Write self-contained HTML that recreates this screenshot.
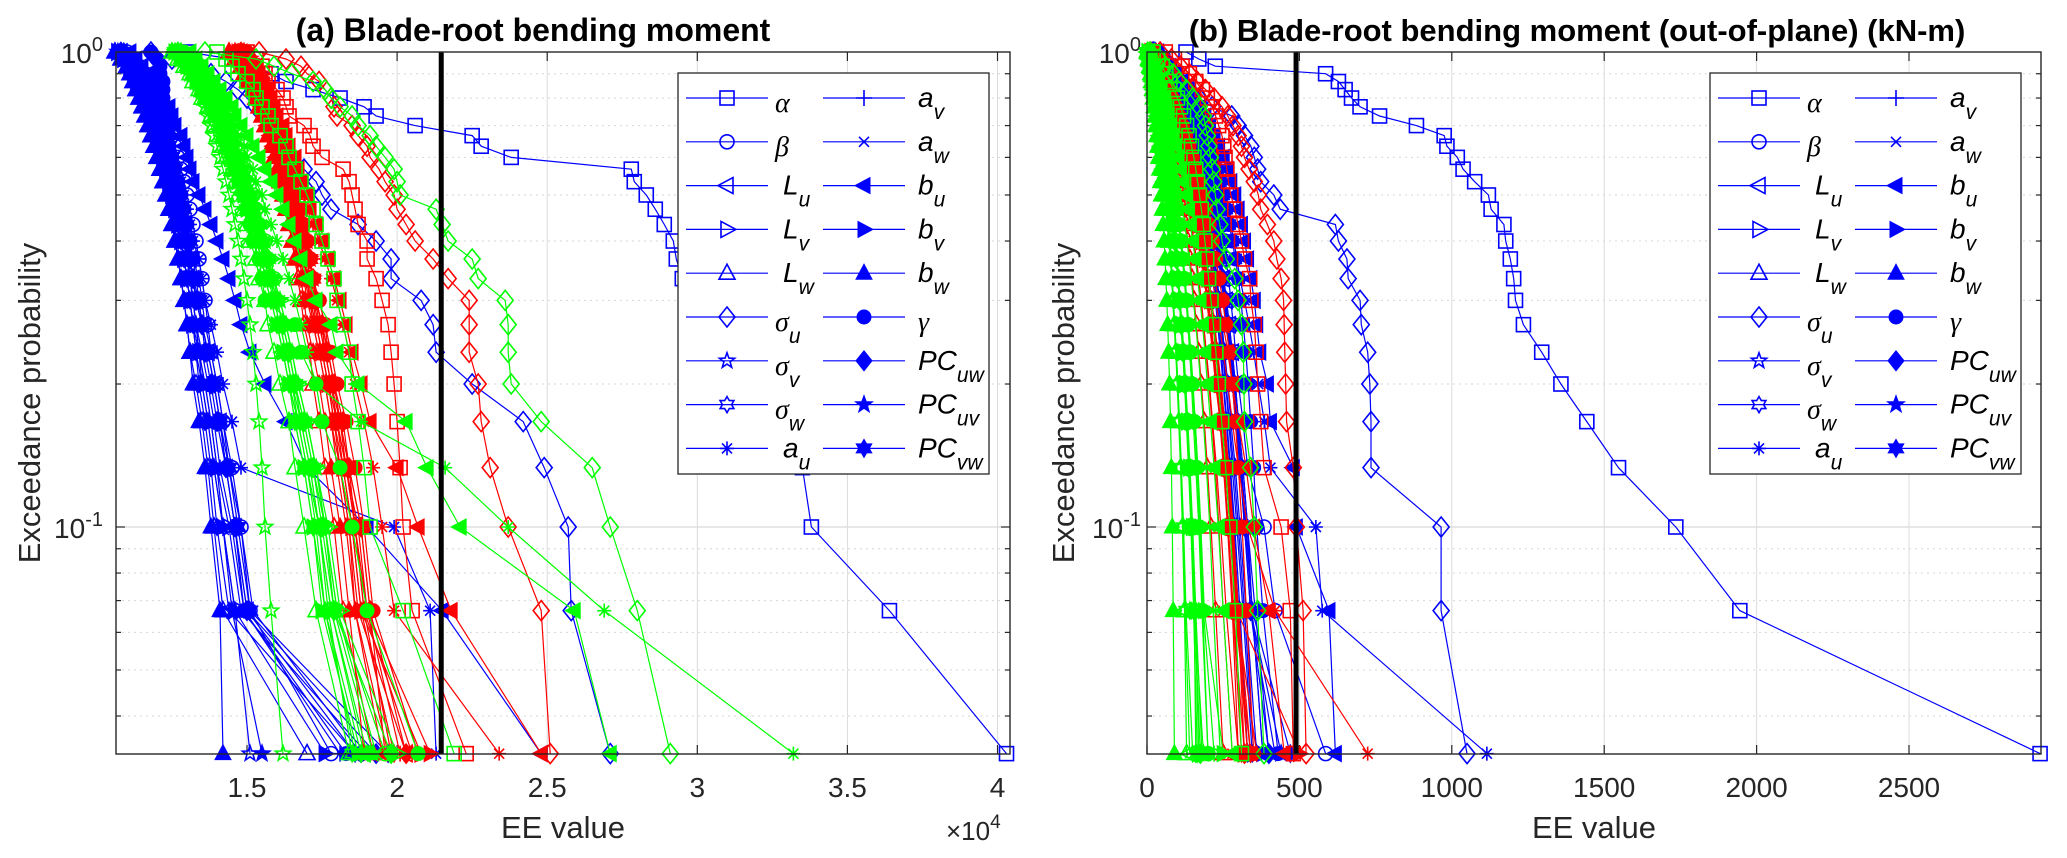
<!DOCTYPE html>
<html><head><meta charset="utf-8"><title>Exceedance probability charts</title>
<style>
html,body{margin:0;padding:0;background:#fff;}
svg{display:block;font-family:"Liberation Sans",sans-serif;}
</style></head>
<body>
<svg id="chart" width="2067" height="858" viewBox="0 0 2067 858" xmlns="http://www.w3.org/2000/svg"></svg>
<script>
// ---- shared categories ----
const shapeNames = ["alpha","beta","Lu","Lv","Lw","su","sv","sw","au","av","aw","bu","bv","bw","gamma","PCuw","PCuv","PCvw"];
const nLevels = 30; // probability levels k/30
const leftTicks = [1.5,2,2.5,3,3.5,4];
const leftTickLabels = ["1.5","2","2.5","3","3.5","4"];
const rightTicks = [0,500,1000,1500,2000,2500];
const rightTickLabels = ["0","500","1000","1500","2000","2500"];
const leftThreshold = 2.147; // x1e4
const rightThreshold = 489;

// ---- left panel values (units of 1e2, i.e. 152 = 1.52e4), k=30..1 ----
const leftBlue = [
[130,145,152,158,163,172,181,189,193,206,225,228,238,278,279,283,286,289,292,293,295,298,302,308,315,325,335,338,364,403],
[110,112,114,116,118,119,120,121,122,124,125,126,127,128,129,130,131,132,133,134,135,136,137,138,140,142,145,148,151,178],
[108,110,112,114,115,116,117,118,119,120,121,122,123,124,125,127,128,129,130,131,132,133,135,137,139,141,143,146,150,186],
[107,109,111,113,114,115,116,117,118,119,120,121,122,123,124,125,126,127,128,129,130,131,132,134,136,138,140,144,148,190],
[106,108,110,111,112,113,114,115,116,117,118,119,120,121,122,123,124,125,126,127,128,129,130,131,133,135,137,139,142,170],
[118,125,132,138,143,147,150,153,156,158,160,162,164,169,173,175,178,187,193,198,198,208,212,213,225,242,249,257,258,271],
[109,111,112,114,115,116,117,118,119,120,121,122,123,124,125,126,127,128,129,130,131,132,133,134,135,137,139,142,146,151],
[108,110,111,113,114,115,116,117,118,119,120,121,122,123,124,125,126,127,128,129,130,131,132,133,134,136,138,140,144,186],
[110,112,114,116,117,119,120,121,122,123,124,125,126,127,128,129,130,131,132,134,135,136,138,140,142,145,148,199,211,213],
[107,109,111,113,114,115,116,117,118,119,120,121,122,123,124,125,126,128,129,130,131,132,133,135,137,139,141,145,149,181],
[109,111,113,115,116,117,119,120,121,122,123,124,125,126,127,128,129,130,131,132,134,135,136,138,140,142,144,148,152,188],
[111,113,115,117,119,121,122,124,125,126,128,129,130,131,132,134,136,138,140,142,144,146,148,151,156,163,170,190,215,248],
[108,110,112,114,115,116,117,118,119,120,121,122,123,124,125,126,127,128,129,130,131,132,133,134,136,138,140,142,146,176],
[106,108,110,111,112,113,114,115,116,117,118,119,120,121,122,123,124,125,126,127,128,129,130,131,132,134,136,138,141,142],
[118,120,121,121,122,122,122,123,123,123,124,124,125,126,127,128,129,130,131,132,133,134,135,137,139,141,143,146,149,183],
[108,110,112,114,116,117,118,119,120,121,122,123,124,125,126,127,128,129,130,131,132,133,135,136,138,140,143,146,150,193],
[107,109,110,112,113,115,116,117,118,119,120,121,122,123,124,125,126,127,128,129,130,131,132,133,135,137,139,142,145,155],
[109,111,113,114,116,117,118,119,120,121,122,123,124,125,126,127,128,129,130,131,132,134,135,137,139,141,144,147,151,197]];
const leftRed = [
[150,153,155,156,157,160,162,163,164,169,171,172,175,182,184,185,186,187,190,190,193,195,197,198,199,200,201,202,205,223],
[147,149,151,153,154,156,157,158,159,160,161,162,163,164,165,166,167,168,170,171,172,174,176,177,179,181,184,188,191,196],
[145,147,149,150,152,153,154,155,156,157,158,159,160,161,162,163,164,165,166,167,169,170,172,174,176,178,181,184,187,203],
[148,150,151,153,154,155,156,157,158,159,160,161,162,163,164,165,166,167,168,169,170,171,173,175,177,180,182,185,188,208],
[144,146,148,149,151,152,153,154,155,156,157,158,159,160,161,162,163,164,165,166,167,168,169,171,172,174,176,179,182,192],
[154,163,168,170,174,176,178,179,180,185,187,190,191,194,196,199,200,203,206,212,217,224,224,224,227,228,231,237,248,251],
[149,151,152,154,155,156,157,158,159,160,161,162,163,164,165,166,167,169,170,171,172,173,175,177,179,181,184,186,189,205],
[146,148,150,151,153,154,155,156,157,158,159,160,161,162,163,164,165,166,167,169,170,171,173,175,177,179,182,185,188,199],
[146,148,150,152,153,155,156,158,159,160,161,163,164,166,167,169,170,172,174,176,178,180,182,184,186,189,192,195,199,234],
[148,149,151,152,154,155,156,157,158,159,160,161,162,163,164,165,166,167,168,169,171,172,174,176,178,180,183,187,190,201],
[145,147,149,151,152,153,155,156,157,158,159,160,161,162,163,164,165,167,168,169,170,172,173,175,177,179,181,184,186,197],
[148,150,152,154,155,157,158,159,160,162,163,164,166,167,168,170,171,173,175,177,179,181,183,185,188,191,200,207,218,248],
[147,149,150,152,153,154,156,157,158,159,160,161,162,163,164,165,166,168,169,170,171,173,174,176,178,181,183,186,190,211],
[144,146,148,149,150,152,153,154,155,156,157,158,159,160,161,162,163,164,165,166,168,169,170,172,174,176,178,181,184,189],
[150,151,153,154,155,156,157,158,159,160,161,162,163,164,165,166,168,169,170,171,172,174,176,178,180,183,186,189,192,207],
[148,150,151,153,154,156,157,158,159,160,161,162,163,164,165,166,167,168,170,171,172,173,175,177,179,182,184,188,191,203],
[146,148,149,151,152,154,155,156,157,158,159,160,161,162,163,164,165,166,167,168,169,171,172,174,176,178,180,183,186,195],
[149,150,152,153,155,156,157,158,159,160,161,162,163,164,165,166,167,168,169,171,172,173,175,176,178,180,183,186,189,198]];
const leftGreen = [
[140,143,145,147,150,152,153,155,157,158,161,163,164,166,168,170,172,173,175,177,179,180,182,184,185,187,189,191,202,219],
[128,130,132,134,136,138,139,141,142,144,145,146,148,149,150,152,153,154,156,157,159,160,162,164,166,169,172,176,180,196],
[126,128,130,132,134,135,137,138,140,141,142,144,145,146,148,149,150,152,153,155,156,158,160,162,164,167,170,174,178,189],
[129,131,133,135,137,138,140,141,143,144,145,147,148,149,151,152,154,155,156,158,159,161,163,165,167,170,173,177,181,200],
[125,127,129,131,132,134,135,137,138,139,141,142,143,145,146,147,149,150,151,153,154,156,157,159,161,164,166,169,173,184],
[136,153,159,165,172,176,178,181,185,187,191,193,196,199,200,201,213,215,217,225,227,236,237,237,238,248,265,271,280,291],
[126,128,130,131,133,134,135,136,137,138,139,140,141,142,143,144,145,146,147,148,149,150,151,152,153,154,155,156,158,162],
[128,130,132,133,135,137,138,140,141,143,144,145,147,148,149,151,152,154,155,157,158,160,162,164,166,168,171,174,177,185],
[130,132,134,136,138,140,141,143,144,146,147,149,150,152,153,155,156,158,160,162,164,166,168,170,173,188,216,237,269,332],
[127,129,131,133,134,136,137,139,140,142,143,144,146,147,148,150,151,153,154,156,157,159,161,163,165,167,170,173,176,186],
[129,131,133,135,136,138,139,141,142,144,145,146,148,149,150,152,153,155,156,158,159,161,163,165,167,170,173,176,180,193],
[131,133,135,137,139,141,143,145,146,148,150,152,154,156,158,160,162,164,166,168,170,173,178,180,187,203,210,221,259,271],
[126,128,130,132,133,135,136,138,139,141,142,143,145,146,147,149,150,152,153,155,156,158,160,162,164,166,169,172,175,187],
[128,130,132,134,135,137,138,140,141,142,144,145,146,148,149,150,152,153,155,156,158,159,161,163,165,168,171,174,178,190],
[129,131,133,135,137,138,139,141,142,143,144,145,146,147,148,149,150,151,152,154,155,156,166,168,173,175,181,185,190,207],
[127,129,131,133,135,137,138,140,141,143,144,145,147,148,149,151,152,154,155,157,158,160,162,164,166,169,172,175,179,198],
[128,130,132,134,136,137,139,140,142,143,144,146,147,148,150,151,153,154,156,157,159,161,163,165,167,170,173,176,179,192],
[126,128,130,132,134,135,137,138,140,141,142,144,145,146,148,149,150,152,153,155,156,158,160,162,164,166,169,172,176,188]];

// ---- right panel values (kN-m), k=30..1 ----
const rightBlue = [
[128,170,224,586,628,650,671,699,763,884,975,984,1018,1037,1075,1120,1129,1171,1177,1192,1203,1209,1235,1295,1358,1443,1547,1735,1945,2930],
[30,50,70,90,105,120,135,150,160,170,180,190,200,210,220,230,240,250,255,260,268,275,283,290,300,315,330,384,420,586],
[25,45,60,75,90,100,110,120,130,140,150,160,170,180,190,200,210,220,230,240,250,260,270,280,290,300,315,330,345,380],
[20,35,50,65,80,95,108,120,130,140,148,156,164,172,180,188,196,204,212,220,228,236,244,252,260,270,285,300,320,350],
[15,30,45,60,75,88,100,110,120,128,136,144,152,160,168,176,184,192,200,208,216,224,232,240,250,260,272,285,300,330],
[20,40,60,85,107,140,171,214,278,299,320,341,352,363,373,416,437,618,628,656,660,699,703,724,731,735,735,965,965,1050],
[25,40,55,70,85,98,110,122,132,142,150,158,166,174,182,190,198,206,214,222,230,238,246,255,265,275,290,305,325,360],
[20,38,52,66,80,92,104,115,125,135,144,152,160,168,176,184,192,200,208,216,224,232,240,248,258,268,280,295,315,345],
[40,60,80,100,115,130,145,160,175,190,205,215,225,235,245,255,265,275,285,295,305,320,335,350,365,385,405,554,575,1115],
[30,48,64,80,95,108,120,132,143,153,162,171,180,189,198,207,216,225,234,243,252,261,270,280,290,300,315,330,355,400],
[22,40,56,72,86,99,111,123,134,144,153,162,171,180,189,198,207,216,225,234,243,252,261,270,280,290,305,320,340,420],
[35,55,75,95,115,135,155,175,190,205,220,235,250,262,275,288,299,310,320,330,341,352,360,370,395,405,480,490,597,618],
[28,46,62,78,93,106,118,130,141,151,160,169,178,187,196,205,214,223,232,241,250,259,268,277,287,297,310,325,345,380],
[18,34,48,62,76,89,101,112,122,131,140,148,156,164,172,180,188,196,204,212,220,228,236,244,252,262,274,288,305,330],
[35,55,75,95,112,128,143,158,172,185,197,208,219,230,240,250,260,270,280,290,300,308,316,324,332,340,350,360,380,430],
[26,44,60,76,91,104,116,128,139,149,158,167,176,185,194,203,212,221,230,239,248,257,266,275,285,295,308,322,340,400],
[24,42,58,74,89,102,114,126,137,147,156,165,174,183,192,201,210,219,228,237,246,255,264,273,283,293,306,320,340,440],
[27,45,61,77,92,105,117,129,140,150,159,168,177,186,195,204,213,222,231,240,249,258,267,276,286,296,310,325,345,470]];
const rightRed = [
[60,90,115,139,160,182,198,214,225,235,246,252,256,262,267,275,288,299,310,320,337,341,352,358,363,373,384,440,470,480],
[12,22,32,42,52,62,72,82,92,100,108,116,124,132,140,148,156,164,172,180,188,196,205,215,225,240,255,275,300,340],
[10,18,26,34,42,50,58,66,74,82,90,98,106,114,122,130,138,146,154,162,170,178,186,195,205,215,228,242,260,300],
[14,24,34,44,54,64,74,84,93,102,111,120,129,138,147,156,165,174,183,192,201,210,220,230,241,252,265,280,298,320],
[8,15,22,29,36,43,50,57,64,71,78,85,92,99,106,113,120,127,134,141,148,155,162,170,178,188,198,210,225,250],
[43,80,110,139,165,192,220,246,265,282,299,310,320,335,352,365,373,395,416,426,440,448,450,452,455,458,480,490,512,522],
[16,26,36,46,56,66,76,86,95,104,113,122,131,140,149,158,167,176,185,194,203,212,222,232,243,255,268,283,300,330],
[11,20,29,38,47,56,65,74,83,92,101,110,119,128,137,146,155,164,173,182,191,200,209,219,229,240,252,266,282,310],
[15,25,35,45,55,65,75,85,95,105,115,125,135,145,155,165,175,185,195,205,215,225,238,250,265,280,300,330,420,724],
[13,23,33,43,53,63,73,83,92,101,110,119,128,137,146,155,164,173,182,191,200,209,218,228,239,250,262,276,292,360],
[9,17,25,33,41,49,57,65,73,81,89,97,105,113,121,129,137,145,153,161,169,177,185,194,203,213,224,236,250,280],
[20,30,40,50,60,70,80,90,100,110,120,130,140,150,160,170,180,190,200,210,222,235,250,265,280,300,325,350,400,450],
[15,25,35,45,55,65,75,85,95,104,113,122,131,140,149,158,167,176,185,194,203,212,221,231,241,252,264,278,295,500],
[10,19,28,37,46,55,64,73,82,91,100,109,118,127,136,145,154,163,172,181,190,199,208,218,228,239,251,264,280,300],
[17,28,39,50,61,72,83,94,105,116,127,138,149,160,171,182,193,204,215,226,237,248,259,270,280,290,300,312,326,350],
[12,21,30,39,48,57,66,75,84,93,102,111,120,129,138,147,156,165,174,183,192,201,210,220,230,241,253,267,283,320],
[14,24,34,44,54,64,74,84,94,103,112,121,130,139,148,157,166,175,184,193,202,211,220,230,240,251,263,277,293,330],
[11,21,31,41,51,61,71,81,90,99,108,117,126,135,144,153,162,171,180,189,198,207,216,226,236,246,258,272,288,340]];
const rightGreen = [
[20,35,50,62,75,88,100,110,120,130,138,146,154,160,166,172,178,184,190,196,202,210,218,226,234,245,258,272,290,310],
[2,8,14,20,26,32,38,44,50,56,62,68,74,80,86,92,98,104,110,116,122,128,134,140,146,152,160,170,180,200],
[3,7,11,15,19,23,27,31,35,39,43,47,51,55,59,63,67,71,75,79,83,87,91,96,101,106,112,118,125,140],
[4,9,14,19,24,29,34,39,44,49,54,59,64,69,74,79,84,89,94,99,104,109,115,121,127,134,141,150,160,180],
[1,5,9,13,17,21,25,29,33,37,41,45,49,53,57,61,65,69,73,77,81,85,89,94,99,104,110,116,123,130],
[10,40,60,86,105,129,150,171,185,192,198,203,208,214,219,224,230,239,246,260,288,299,310,316,318,320,340,352,363,384],
[3,8,13,18,23,28,33,38,43,48,53,58,63,68,73,78,83,88,93,98,103,108,114,120,126,133,140,148,157,170],
[2,6,10,14,18,22,26,30,34,38,42,46,50,54,58,62,66,70,74,78,82,86,91,96,101,107,113,120,128,150],
[5,12,19,26,33,40,47,54,61,68,75,82,89,96,103,110,117,124,131,138,145,152,160,168,176,185,195,206,218,240],
[5,11,17,23,29,35,41,47,53,59,65,71,77,83,89,95,101,107,113,119,125,131,137,144,151,158,166,175,185,220],
[3,8,13,18,23,28,33,38,43,48,53,58,63,68,73,78,83,88,93,98,103,108,113,119,125,131,138,146,155,160],
[6,14,22,30,38,46,54,62,70,78,86,94,102,110,118,126,134,142,150,158,166,174,182,190,198,208,220,234,250,280],
[4,10,16,22,28,34,40,46,52,58,64,70,76,82,88,94,100,106,112,118,124,130,136,143,150,158,167,177,188,250],
[2,5,8,11,14,17,20,23,26,29,32,35,38,41,44,47,50,53,56,59,62,65,68,71,74,77,80,83,86,90],
[3,9,15,21,27,33,39,45,51,57,63,69,75,81,87,93,99,105,111,117,123,129,135,142,149,156,164,173,183,200],
[2,7,12,17,22,27,32,37,42,47,52,57,62,67,72,77,82,87,92,97,102,107,113,119,125,132,139,147,156,175],
[4,9,14,19,24,29,34,39,44,49,54,59,64,69,74,79,84,89,94,99,104,109,114,120,126,132,139,147,156,185],
[1,6,11,16,21,26,31,36,41,46,51,56,61,66,71,76,81,86,91,96,101,106,111,117,123,129,136,144,153,165]];

// ---- drawing ----
const NS = "http://www.w3.org/2000/svg";
const svg = document.getElementById("chart");
function mk(tag, attrs, parent){
  const e = document.createElementNS(NS, tag);
  for (const k in attrs) e.setAttribute(k, attrs[k]);
  (parent||svg).appendChild(e);
  return e;
}
const Y0 = 52, Y1 = 754, DEC = 475;
function yP(p){ return Y0 + DEC * (-Math.log10(p)); }
const panels = [
  {x0:116, x1:1010, xs: v => 116 + (v - 1.0636) * 300.2, name:"left"},
  {x0:1147, x1:2041, xs: v => 1147 + v * 0.3048, name:"right"}
];
function starPts(n, R, r, x, y, rot){
  const pts=[];
  for(let i=0;i<2*n;i++){
    const a = rot + i*Math.PI/n;
    const rr = i%2===0?R:r;
    pts.push((x+rr*Math.cos(a)).toFixed(1)+","+(y+rr*Math.sin(a)).toFixed(1));
  }
  return pts.join(" ");
}
function marker(g, shape, x, y, col){
  const o = {fill:"none", stroke:col, "stroke-width":1.6};
  const f = {fill:col, stroke:col, "stroke-width":1};
  let e;
  switch(shape){
    case "alpha": e=mk("rect",Object.assign({x:x-7,y:y-7,width:14,height:14},o),g); break;
    case "beta": e=mk("circle",Object.assign({cx:x,cy:y,r:7},o),g); break;
    case "Lu": e=mk("polygon",Object.assign({points:`${x-9},${y} ${x+6},${y-8} ${x+6},${y+8}`},o),g); break;
    case "Lv": e=mk("polygon",Object.assign({points:`${x+9},${y} ${x-6},${y-8} ${x-6},${y+8}`},o),g); break;
    case "Lw": e=mk("polygon",Object.assign({points:`${x},${y-9} ${x-8},${y+6} ${x+8},${y+6}`},o),g); break;
    case "su": e=mk("polygon",Object.assign({points:`${x},${y-10} ${x+8},${y} ${x},${y+10} ${x-8},${y}`},o),g); break;
    case "sv": e=mk("polygon",Object.assign({points:starPts(5,8,3.3,x,y,-Math.PI/2)},o),g); break;
    case "sw": e=mk("polygon",Object.assign({points:starPts(6,8,4.6,x,y,-Math.PI/2)},o),g); break;
    case "au": e=mk("path",Object.assign({d:`M${x-7},${y}H${x+7}M${x},${y-7}V${y+7}M${x-5},${y-5}L${x+5},${y+5}M${x-5},${y+5}L${x+5},${y-5}`},o),g); break;
    case "av": e=mk("path",Object.assign({d:`M${x-8},${y}H${x+8}M${x},${y-8}V${y+8}`},o),g); break;
    case "aw": e=mk("path",Object.assign({d:`M${x-5},${y-5}L${x+5},${y+5}M${x-5},${y+5}L${x+5},${y-5}`},o),g); break;
    case "bu": e=mk("polygon",Object.assign({points:`${x-9},${y} ${x+6},${y-8} ${x+6},${y+8}`},f),g); break;
    case "bv": e=mk("polygon",Object.assign({points:`${x+9},${y} ${x-6},${y-8} ${x-6},${y+8}`},f),g); break;
    case "bw": e=mk("polygon",Object.assign({points:`${x},${y-9} ${x-8},${y+6} ${x+8},${y+6}`},f),g); break;
    case "gamma": e=mk("circle",Object.assign({cx:x,cy:y,r:7},f),g); break;
    case "PCuw": e=mk("polygon",Object.assign({points:`${x},${y-10} ${x+8},${y} ${x},${y+10} ${x-8},${y}`},f),g); break;
    case "PCuv": e=mk("polygon",Object.assign({points:starPts(5,9,3.7,x,y,-Math.PI/2)},f),g); break;
    case "PCvw": e=mk("polygon",Object.assign({points:starPts(6,9,5.2,x,y,-Math.PI/2)},f),g); break;
  }
  return e;
}

function drawAxesFrame(P, ticks, labels, pi){
  const g = mk("g",{});
  
  
  for (let d=0; d<2; d++){
    for (let m=1; m<=9; m++){
      const p = m*Math.pow(10,-(d+1));
      if (p < 1/30 - 1e-9) continue;
      const y = yP(p);
      const major = (m===1);
      mk("line",{x1:P.x0,x2:P.x1,y1:y,y2:y,stroke:major?"#cfcfcf":"#d6d6d6","stroke-width":1,"stroke-dasharray":major?"none":"2,4"},g);
      const tl = major?9:5;
      mk("line",{x1:P.x0,x2:P.x0+tl,y1:y,y2:y,stroke:"#262626","stroke-width":1.2},g);
      mk("line",{x1:P.x1,x2:P.x1-tl,y1:y,y2:y,stroke:"#262626","stroke-width":1.2},g);
    }
  }
  ticks.forEach((t,i)=>{
    const x = P.xs(t);
    if (t>0) mk("line",{x1:x,x2:x,y1:Y0,y2:Y1,stroke:"#dcdcdc","stroke-width":1},g);
    mk("line",{x1:x,x2:x,y1:Y1,y2:Y1-9,stroke:"#262626","stroke-width":1.2},g);
    mk("line",{x1:x,x2:x,y1:Y0,y2:Y0+9,stroke:"#262626","stroke-width":1.2},g);
    const tx = mk("text",{x:x,y:797,"text-anchor":"middle","font-size":28,fill:"#262626"},g);
    tx.textContent = labels[i];
    
    
  });
  [[1,"0"],[0.1,"-1"]].forEach(([p,ex])=>{
    const y = yP(p);
    const rx = pi===0?103:1141;
    const t = mk("text",{x:rx,y:y+11,"text-anchor":"end","font-size":28,fill:"#262626"},g);
    
    
    const a = mk("tspan",{},t); a.textContent="10";
    const b = mk("tspan",{dy:-12,"font-size":20},t); b.textContent=ex;
  });
}

function drawSeries(P, data, color, pi, cname){
  const g = mk("g",{});
  
  
  data.forEach((vals, si)=>{
    const sg = mk("g",{},g);
    
    
    const pts = vals.map((v,i)=>{
      const k = nLevels - i;
      const val = pi===0 ? v/100 : v;
      return [P.xs(val), yP(k/nLevels)];
    });
    const pl = mk("polyline",{points:pts.map(p=>p[0].toFixed(1)+","+p[1].toFixed(1)).join(" "),fill:"none",stroke:color,"stroke-width":1.2},sg);
    
    
    pts.forEach(p=>{
      const m = marker(sg, shapeNames[si], p[0], p[1], color);
      
      
    });
  });
}

const legendLabels = [["α",""],["β",""],["L","u"],["L","v"],["L","w"],["σ","u"],["σ","v"],["σ","w"],["a","u"],
                      ["a","v"],["a","w"],["b","u"],["b","v"],["b","w"],["γ",""],["PC","uw"],["PC","uv"],["PC","vw"]];
function drawLegend(bx, name){
  const g = mk("g",{});
  
  
  mk("rect",{x:bx,y:73,width:311,height:401,fill:"#fff",stroke:"#262626","stroke-width":1.3},g);
  for (let i=0;i<18;i++){
    const col = i<9?0:1, row = i%9;
    const y = 98 + row*43.8;
    const lx = bx + (col===0?8:145);
    const eg = mk("g",{},g);
    
    
    mk("line",{x1:lx,x2:lx+82,y1:y,y2:y,stroke:"#0000ff","stroke-width":1.2},eg);
    marker(eg, shapeNames[i], lx+41, y, "#0000ff");
    const tx = bx + (col===0?97:240);
    const [main, sub] = legendLabels[i];
    const greek = /[αβγσ]/.test(main);
    const t = mk("text",{x: tx + ((main==="L"||main==="a"&&col===0)?8:0), y:y+(greek?14:9), "font-size":greek?28:28, "font-style":"italic", fill:"#000",
      "font-family": greek?"'Liberation Serif',serif":"'Liberation Sans',sans-serif"},eg);
    const a = mk("tspan",{},t); a.textContent = main;
    if (sub){ const b = mk("tspan",{dy:12,"font-size":21,"font-family":"'Liberation Sans',sans-serif"},t); b.textContent = sub; }
  }
}

const allData = [[leftBlue,leftRed,leftGreen],[rightBlue,rightRed,rightGreen]];
panels.forEach((P,pi)=>{
  mk("rect",{x:P.x0,y:Y0,width:P.x1-P.x0,height:Y1-Y0,fill:"#fff"});
  drawAxesFrame(P, pi===0?leftTicks:rightTicks, pi===0?leftTickLabels:rightTickLabels, pi);
  drawSeries(P, allData[pi][0], "#0000ff", pi, "blue");
  drawSeries(P, allData[pi][1], "#ff0000", pi, "red");
  drawSeries(P, allData[pi][2], "#00ff00", pi, "green");
  const thx = P.xs(pi===0?leftThreshold:rightThreshold);
  const th = mk("line",{x1:thx,x2:thx,y1:Y0,y2:Y1,stroke:"#000","stroke-width":5});
  
  
  const fr = mk("rect",{x:P.x0,y:Y0,width:P.x1-P.x0,height:Y1-Y0,fill:"none",stroke:"#262626","stroke-width":1.4});
  
  
});
drawLegend(678, "left-legend");
drawLegend(1710, "right-legend");

function txt(x,y,s,attrs,name){
  const t = mk("text",Object.assign({x:x,y:y,fill:"#000"},attrs));
  t.textContent = s;
  
  
  return t;
}
txt(533,41,"(a)  Blade-root bending moment",{"text-anchor":"middle","font-size":32,"font-weight":"bold"},"left-title");
txt(1577,41,"(b)  Blade-root bending moment (out-of-plane) (kN-m)",{"text-anchor":"middle","font-size":31,"font-weight":"bold"},"right-title");
txt(563,838,"EE value",{"text-anchor":"middle","font-size":31,fill:"#262626"},"left-x-axis-title");
txt(1594,838,"EE value",{"text-anchor":"middle","font-size":31,fill:"#262626"},"right-x-axis-title");
txt(0,0,"Exceedance probability",{"text-anchor":"middle","font-size":31,fill:"#262626",transform:"translate(40,403) rotate(-90)"},"left-y-axis-title");
txt(0,0,"Exceedance probability",{"text-anchor":"middle","font-size":31,fill:"#262626",transform:"translate(1074,403) rotate(-90)"},"right-y-axis-title");
const ex = mk("text",{x:946,y:840,"font-size":26,fill:"#262626"});


const e1 = mk("tspan",{},ex); e1.textContent="×10";
const e2 = mk("tspan",{dy:-12,"font-size":19},ex); e2.textContent="4";
</script>
</body></html>
